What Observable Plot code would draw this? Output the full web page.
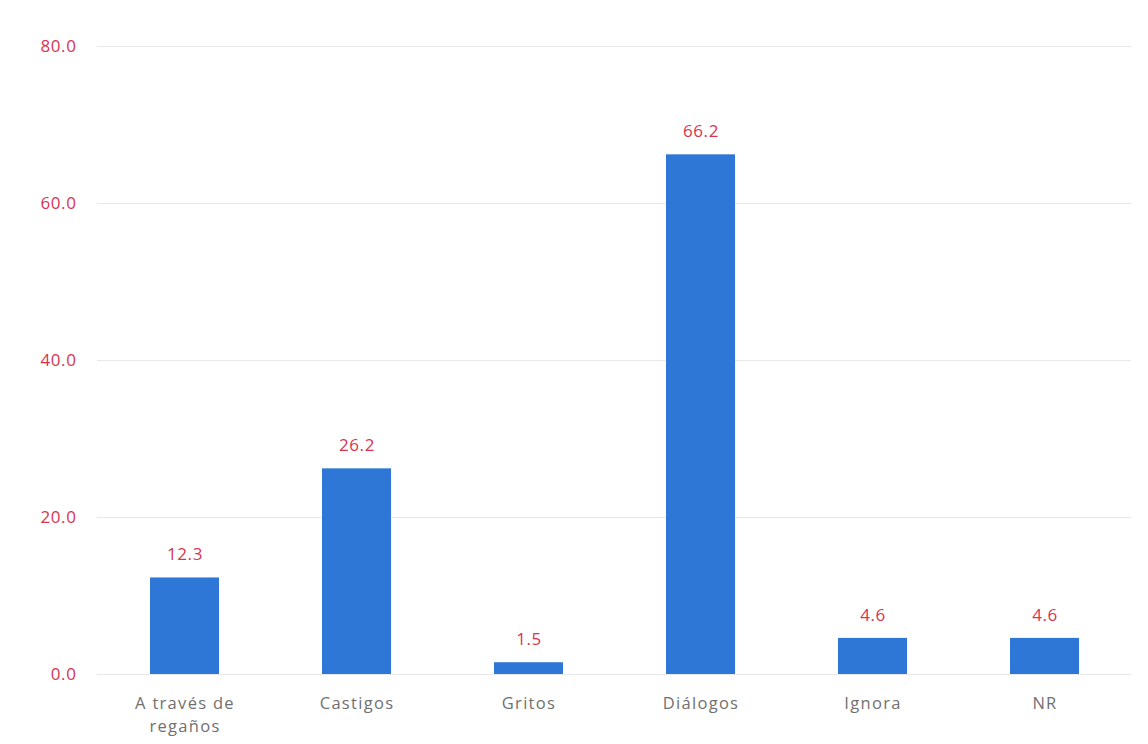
<!DOCTYPE html>
<html>
<head>
<meta charset="utf-8">
<script src="https://cdn.jsdelivr.net/npm/d3@7"></script>
<script src="https://cdn.jsdelivr.net/npm/@observablehq/plot@0.6"></script>
<style>
  html, body { margin: 0; padding: 0; background: #fff; }
  #chart svg text { letter-spacing: 0.6px; }
  #chart svg g[aria-label="x-axis tick label"] text { letter-spacing: 1.3px; }
</style>
</head>
<body>
<div id="chart"></div>
<script>
const categories = ["A través de regaños", "Castigos", "Gritos", "Diálogos", "Ignora", "NR"];
const values = [12.3, 26.2, 1.5, 66.2, 4.6, 4.6];
const yTicks = [0, 20, 40, 60, 80];

const data = categories.map((c, i) => ({category: c, value: values[i]}));

const chart = Plot.plot({
  width: 1148,
  height: 744,
  marginTop: 46,
  marginBottom: 70,
  marginLeft: 97,
  marginRight: 17,
  style: {fontFamily: "'Open Sans', sans-serif", background: "#fff"},
  x: {domain: categories, paddingInner: 0.6, paddingOuter: 0.3, label: null},
  y: {domain: [0, 80], label: null},
  marks: [
    Plot.gridY(yTicks, {stroke: "#d9d9d9", strokeOpacity: 0.6}),
    Plot.axisY(yTicks, {
      tickSize: 0, tickPadding: 21, fontSize: 17, fill: "#d8344f",
      tickFormat: d => d.toFixed(1), label: null
    }),
    Plot.axisX({
      tickSize: 0, tickPadding: 18, fontSize: 16.5, fill: "#707070", lineHeight: 1.4,
      tickFormat: d => d === "A través de regaños" ? "A través de\nregaños" : d, label: null
    }),
    Plot.barY(data, {x: "category", y: "value", fill: "#2f77d6"}),
    Plot.text(data, {
      x: "category", y: "value", text: d => d.value.toFixed(1),
      dy: -23, fontSize: 17, fill: "#d8344f"
    })
  ]
});
document.getElementById("chart").appendChild(chart);
</script>
</body>
</html>
